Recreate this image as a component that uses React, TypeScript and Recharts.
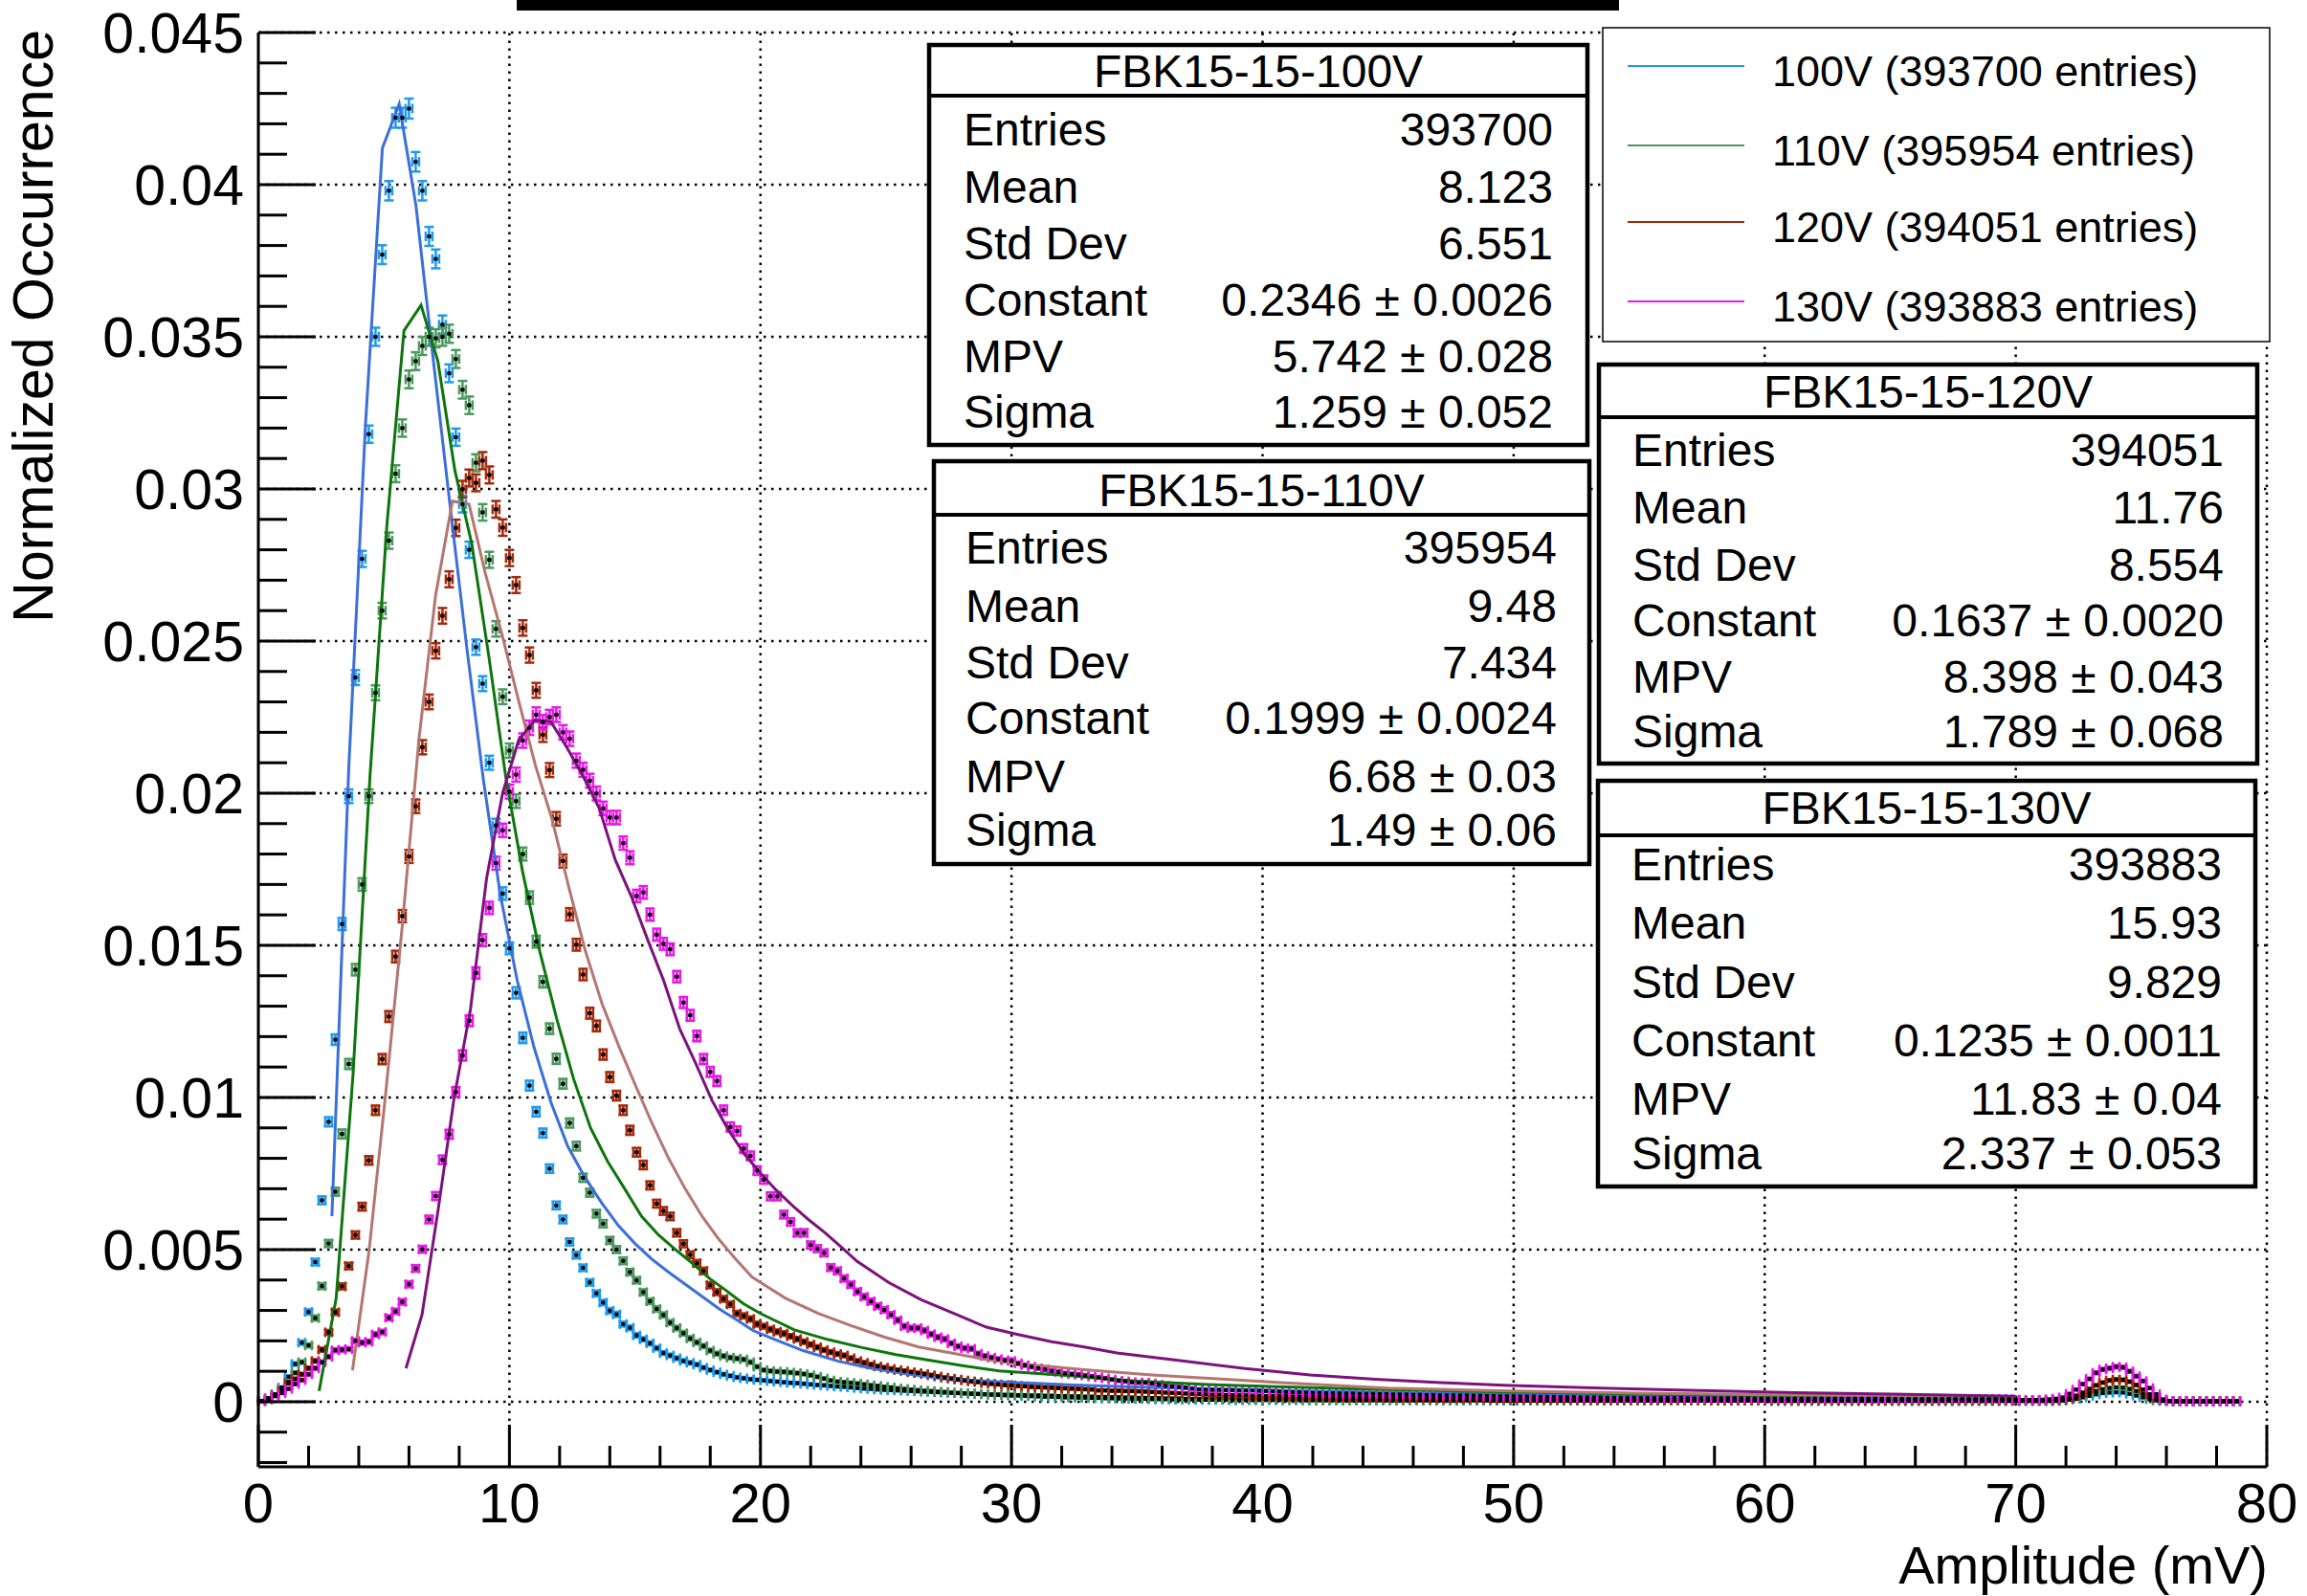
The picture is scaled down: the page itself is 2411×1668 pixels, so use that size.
import React from 'react';
import { ComposedChart, Scatter, Line, XAxis, YAxis, ReferenceLine, ErrorBar } from 'recharts';

// histogram binning (300 bins over 0-80 mV)
const N_BINS = 300;
const X_MAX = 80;
const UNIT = 1e-5; // all histogram / fit values below are in units of 1e-5

const NAMES = ['100V', '110V', '120V', '130V'];
const ENTRIES = [393700, 395954, 394051, 393883];
const POINT_COLORS = ['#1e9bf0', '#4c9960', '#a6290a', '#e619e6'];
const FIT_COLORS = ['#3b6fd9', '#0c760c', '#b4766f', '#7c127c'];

// normalized occurrence per bin
const H100 = [
  3, 12, 25, 47, 82, 124, 194, 295, 459, 662,
  920, 1190, 1570, 1990, 2380, 2770, 3180, 3500, 3770, 3980,
  4220, 4220, 4250, 4075, 3980, 3830, 3756, 3540, 3380, 3170,
  2950, 2800, 2480, 2360, 2100, 1894, 1670, 1490, 1344, 1196,
  1039, 953, 883, 766, 645, 599, 525, 482, 440, 392,
  356, 326, 299, 287, 255, 243, 218, 205, 192, 176,
  160, 152, 143, 134, 128, 122, 112, 104, 97, 90,
  85, 80, 77, 74, 72, 70, 68, 66, 64, 62,
  61, 59, 57, 55, 54, 52, 50, 49, 47, 45,
  43, 42, 40, 39, 38, 37, 36, 35, 34, 33,
  32, 31, 30, 29, 28, 27, 26, 25, 24, 23,
  22, 21, 21, 20, 19, 18, 17, 16, 16, 15,
  14, 14, 13, 13, 12, 12, 11, 11, 10, 10,
  9, 9, 9, 8, 8, 8, 7, 7, 7, 7,
  6, 6, 6, 6, 6, 5, 5, 5, 5, 5,
  5, 5, 5, 5, 5, 5, 4, 4, 4, 4,
  4, 4, 4, 4, 4, 4, 4, 4, 4, 4,
  4, 4, 4, 4, 4, 4, 4, 4, 4, 4,
  4, 4, 4, 4, 3, 3, 3, 3, 3, 3,
  3, 3, 3, 3, 3, 3, 3, 3, 3, 3,
  3, 3, 3, 3, 3, 3, 3, 3, 3, 3,
  3, 3, 3, 3, 3, 3, 3, 3, 3, 3,
  3, 3, 3, 3, 3, 2, 2, 2, 2, 2,
  2, 2, 2, 2, 2, 2, 2, 2, 2, 2,
  2, 2, 2, 2, 2, 2, 2, 2, 2, 2,
  2, 2, 2, 2, 2, 2, 2, 2, 2, 2,
  2, 2, 2, 2, 2, 2, 2, 2, 2, 3,
  6, 9, 14, 19, 24, 28, 30, 31, 30, 26,
  20, 14, 8, 4, 2, 1, 1, 1, 1, 1,
  1, 1, 1, 1, 1, 1,
];

const H110 = [
  2, 8, 22, 40, 65, 95, 130, 185, 275, 380,
  520, 690, 880, 1110, 1420, 1700, 1990, 2330, 2600, 2830,
  3050, 3200, 3360, 3420, 3470, 3500, 3495, 3500, 3510, 3427,
  3326, 3275, 3086, 2923, 2767, 2540, 2317, 2140, 1974, 1800,
  1657, 1512, 1380, 1226, 1127, 1045, 916, 840, 736, 687,
  618, 585, 530, 500, 463, 426, 399, 360, 330, 305,
  285, 260, 242, 225, 208, 195, 183, 168, 158, 150,
  145, 142, 139, 130, 115, 104, 101, 99, 98, 96,
  94, 91, 87, 82, 76, 70, 66, 64, 62, 60,
  57, 54, 52, 49, 47, 44, 42, 40, 38, 36,
  35, 33, 32, 30, 29, 28, 27, 26, 25, 24,
  24, 23, 23, 22, 22, 21, 21, 20, 20, 19,
  19, 18, 18, 17, 17, 16, 16, 15, 15, 14,
  14, 13, 13, 12, 12, 11, 11, 11, 10, 10,
  10, 10, 9, 9, 9, 9, 8, 8, 8, 8,
  8, 8, 7, 7, 7, 7, 7, 7, 6, 6,
  6, 6, 6, 6, 6, 6, 6, 6, 6, 6,
  6, 6, 6, 5, 5, 5, 5, 5, 5, 5,
  5, 5, 5, 5, 5, 5, 5, 5, 5, 5,
  5, 5, 5, 5, 4, 4, 4, 4, 4, 4,
  4, 4, 4, 4, 4, 4, 4, 4, 4, 4,
  4, 4, 4, 4, 4, 4, 4, 4, 4, 4,
  4, 4, 4, 3, 3, 3, 3, 3, 3, 3,
  3, 3, 3, 3, 3, 3, 3, 3, 3, 3,
  3, 3, 3, 3, 3, 3, 3, 3, 3, 3,
  3, 3, 3, 3, 3, 3, 3, 3, 3, 3,
  3, 3, 3, 3, 3, 3, 3, 3, 3, 5,
  9, 14, 21, 28, 35, 41, 45, 47, 46, 42,
  35, 26, 15, 7, 3, 2, 1, 1, 1, 1,
  1, 1, 1, 1, 1, 1,
];

const H120 = [
  2, 8, 20, 35, 60, 75, 90, 110, 134, 171,
  228, 294, 379, 446, 548, 641, 793, 958, 1126, 1266,
  1463, 1596, 1792, 1957, 2151, 2300, 2468, 2583, 2703, 2872,
  2999, 3036, 3020, 3093, 3046, 2933, 2873, 2773, 2684, 2543,
  2454, 2338, 2192, 2076, 1916, 1777, 1602, 1502, 1404, 1277,
  1235, 1141, 1067, 1006, 958, 892, 820, 778, 711, 651,
  627, 609, 555, 519, 483, 455, 430, 383, 360, 338,
  320, 290, 282, 272, 255, 248, 238, 230, 224, 215,
  206, 197, 188, 179, 170, 163, 157, 152, 143, 134,
  128, 122, 116, 112, 108, 104, 101, 97, 94, 91,
  87, 83, 79, 76, 73, 70, 67, 65, 61, 59,
  57, 55, 54, 52, 51, 49, 48, 47, 46, 45,
  44, 43, 42, 41, 40, 37, 37, 36, 36, 35,
  35, 34, 33, 32, 31, 30, 29, 28, 27, 26,
  25, 24, 23, 23, 22, 22, 21, 21, 20, 20,
  19, 19, 18, 18, 17, 17, 17, 16, 16, 16,
  15, 15, 15, 14, 14, 14, 13, 13, 13, 13,
  12, 12, 12, 12, 11, 11, 11, 11, 10, 10,
  10, 10, 10, 10, 9, 9, 9, 9, 9, 9,
  8, 8, 8, 8, 8, 8, 8, 7, 7, 7,
  7, 7, 7, 7, 7, 7, 6, 6, 6, 6,
  6, 6, 6, 6, 6, 6, 6, 5, 5, 5,
  5, 5, 5, 5, 5, 5, 5, 5, 5, 5,
  5, 5, 5, 5, 5, 4, 4, 4, 4, 4,
  4, 4, 4, 4, 4, 4, 4, 4, 4, 4,
  4, 4, 4, 4, 4, 4, 4, 4, 4, 4,
  4, 4, 4, 4, 4, 4, 4, 4, 5, 7,
  12, 20, 30, 42, 54, 63, 70, 73, 72, 66,
  55, 40, 25, 12, 5, 3, 2, 2, 2, 2,
  2, 2, 2, 2, 2, 2,
];

const H130 = [
  2, 9, 18, 28, 42, 58, 71, 90, 110, 130,
  148, 169, 171, 173, 200, 194, 197, 221, 229, 276,
  297, 328, 386, 438, 501, 599, 676, 795, 879, 1018,
  1138, 1252, 1409, 1517, 1623, 1770, 1878, 2005, 2061, 2173,
  2215, 2258, 2233, 2250, 2258, 2200, 2179, 2107, 2077, 2041,
  1999, 1950, 1920, 1920, 1836, 1788, 1662, 1674, 1601, 1535,
  1505, 1487, 1397, 1312, 1270, 1202, 1126, 1084, 1054, 958,
  903, 890, 832, 808, 760, 730, 675, 675, 615, 591,
  555, 555, 515, 503, 489, 441, 430, 405, 385, 362,
  345, 330, 314, 302, 286, 268, 248, 242, 242, 234,
  222, 212, 206, 192, 182, 176, 174, 158, 150, 145,
  140, 136, 134, 126, 120, 115, 110, 106, 101, 98,
  93, 91, 89, 86, 83, 80, 77, 73, 69, 67,
  64, 63, 63, 60, 56, 52, 50, 48, 46, 43,
  40, 39, 39, 39, 38, 38, 37, 37, 37, 36,
  35, 34, 33, 32, 31, 31, 30, 29, 29, 28,
  28, 27, 27, 27, 26, 26, 26, 25, 25, 24,
  24, 24, 23, 23, 22, 22, 21, 21, 21, 21,
  21, 20, 20, 19, 19, 18, 18, 18, 17, 17,
  17, 16, 16, 16, 15, 15, 15, 14, 14, 14,
  14, 13, 13, 13, 13, 13, 12, 12, 12, 12,
  12, 12, 12, 11, 11, 11, 11, 11, 11, 11,
  11, 11, 11, 10, 10, 10, 10, 10, 10, 10,
  10, 10, 10, 10, 10, 10, 10, 10, 10, 10,
  10, 10, 10, 10, 9, 9, 9, 9, 9, 9,
  9, 9, 9, 9, 9, 9, 9, 9, 9, 9,
  9, 8, 7, 6, 6, 6, 7, 8, 10, 14,
  26, 40, 58, 75, 95, 106, 110, 115, 113, 100,
  84, 68, 45, 25, 8, 3, 2, 2, 1, 1,
  1, 1, 1, 1, 1, 1,
];

// Landau fit curves (polyline vertices)
const F100_X = [2.93, 3.6, 4.27, 4.94, 5.61, 6.28, 6.96, 7.63, 8.3, 8.97, 9.64, 10.31, 10.98, 11.65, 12.32, 12.99, 13.66, 14.33, 15.0, 15.68, 16.35, 17.02, 17.69, 18.36, 19.03, 19.7, 20.4, 21.7, 23.1, 24.4, 25.8, 27.1, 28.5, 29.8, 32.5, 35.2, 37.9, 40.6, 45.0, 50.4, 55.8, 61.2, 66.5, 70.0];
const F100_Y = [610, 2080, 3215, 4120, 4265, 3930, 3430, 2950, 2480, 2040, 1665, 1385, 1165, 985, 840, 740, 655, 580, 520, 468, 425, 385, 345, 305, 270, 234, 210, 168, 133, 110, 92, 78, 70, 64, 55, 48, 42, 37, 30, 24, 19, 15, 12, 11];

const F110_X = [2.42, 3.1, 3.77, 4.45, 5.12, 5.8, 6.48, 7.15, 7.83, 8.5, 9.18, 9.86, 10.53, 11.21, 11.88, 12.56, 13.23, 13.91, 14.59, 15.26, 15.94, 16.61, 17.29, 17.97, 18.64, 19.32, 20.0, 21.35, 22.7, 24.05, 25.4, 26.76, 28.1, 29.5, 32.2, 34.9, 37.6, 40.3, 44.4, 49.8, 55.2, 60.6, 66.0, 70.0];
const F110_Y = [35, 340, 1074, 2060, 2880, 3520, 3604, 3420, 3060, 2820, 2450, 2050, 1740, 1480, 1260, 1060, 900, 790, 700, 610, 548, 500, 455, 405, 365, 322, 290, 236, 204, 178, 155, 136, 118, 101, 86, 68, 57, 50, 41, 32, 25, 20, 16, 14];

const F120_X = [3.75, 4.41, 5.08, 5.74, 6.4, 7.06, 7.73, 8.39, 9.05, 9.71, 10.38, 11.04, 11.7, 12.37, 13.03, 13.69, 14.35, 15.02, 15.68, 16.34, 17.0, 17.67, 18.33, 19.0, 19.66, 20.33, 21.0, 22.3, 23.6, 24.95, 26.3, 27.6, 28.9, 30.3, 32.9, 35.6, 38.2, 40.9, 45.0, 50.0, 55.0, 60.0, 65.0, 70.0];
const F120_Y = [103, 496, 1020, 1570, 2180, 2650, 2960, 2950, 2720, 2520, 2300, 2090, 1914, 1690, 1480, 1308, 1170, 1040, 915, 800, 700, 610, 535, 470, 410, 375, 340, 290, 250, 212, 180, 160, 140, 125, 105, 88, 75, 62, 45, 35, 28, 23, 19, 16];

const F130_X = [5.88, 6.52, 7.16, 7.8, 8.45, 9.09, 9.73, 10.37, 11.01, 11.65, 12.29, 12.94, 13.58, 14.22, 14.86, 15.5, 16.14, 16.79, 17.43, 18.07, 18.71, 19.35, 19.99, 20.63, 21.27, 21.92, 22.56, 23.2, 23.84, 25.1, 26.4, 27.7, 29.0, 30.3, 31.6, 32.9, 34.2, 36.8, 39.3, 41.9, 44.5, 47.1, 49.6, 53.5, 57.4, 61.2, 65.1, 70.0];
const F130_Y = [110, 286, 630, 1000, 1290, 1720, 2000, 2175, 2240, 2235, 2150, 2055, 1950, 1780, 1660, 1520, 1385, 1224, 1110, 990, 895, 815, 752, 695, 645, 598, 556, 510, 462, 392, 335, 290, 245, 220, 197, 180, 160, 134, 109, 88, 74, 63, 54, 45, 37, 30, 25, 18];

// axes
const Y_MIN = -0.00214;
const Y_MAX = 0.045;
const Y_MAJOR = [0, 0.005, 0.01, 0.015, 0.02, 0.025, 0.03, 0.035, 0.04, 0.045];
const Y_LABELS = ['0', '0.005', '0.01', '0.015', '0.02', '0.025', '0.03', '0.035', '0.04', '0.045'];
const Y_MINOR = [-0.002, -0.001, 0.001, 0.002, 0.003, 0.004, 0.006, 0.007, 0.008, 0.009, 0.011, 0.012, 0.013, 0.014, 0.016, 0.017, 0.018, 0.019, 0.021, 0.022, 0.023, 0.024, 0.026, 0.027, 0.028, 0.029, 0.031, 0.032, 0.033, 0.034, 0.036, 0.037, 0.038, 0.039, 0.041, 0.042, 0.043, 0.044];
const X_MAJOR = [0, 10, 20, 30, 40, 50, 60, 70, 80];
const X_LABELS = ['0', '10', '20', '30', '40', '50', '60', '70', '80'];
const X_MINOR = [2, 4, 6, 8, 12, 14, 16, 18, 22, 24, 26, 28, 32, 34, 36, 38, 42, 44, 46, 48, 52, 54, 56, 58, 62, 64, 66, 68, 72, 74, 76, 78];

// stats boxes
const STAT_LABELS = ['Entries', 'Mean', 'Std Dev', 'Constant', 'MPV', 'Sigma'];
const STAT_VALUES = [
  ['393700', '8.123', '6.551', '0.2346 \u00b1 0.0026', '5.742 \u00b1 0.028', '1.259 \u00b1 0.052'],
  ['395954', '9.48', '7.434', '0.1999 \u00b1 0.0024', '6.68 \u00b1 0.03', '1.49 \u00b1 0.06'],
  ['394051', '11.76', '8.554', '0.1637 \u00b1 0.0020', '8.398 \u00b1 0.043', '1.789 \u00b1 0.068'],
  ['393883', '15.93', '9.829', '0.1235 \u00b1 0.0011', '11.83 \u00b1 0.04', '2.337 \u00b1 0.053'],
];

const FONT = "'Liberation Sans', Arial, Helvetica, sans-serif";
const W = 2411;
const H = 1668;

const BOXES = [
  { x: 971, y: 47, w: 688, h: 418, sep: 100, title: 91, rows: [152, 212, 271, 330, 389, 447], lx: 1007, vx: 1623 },
  { x: 976, y: 482, w: 685, h: 421, sep: 538, title: 529, rows: [589, 650, 709, 767, 828, 884], lx: 1009, vx: 1627 },
  { x: 1671, y: 381, w: 688, h: 417, sep: 436, title: 426, rows: [487, 547, 607, 665, 724, 781], lx: 1706, vx: 2324 },
  { x: 1670, y: 816, w: 687, h: 424, sep: 873, title: 861, rows: [920, 981, 1043, 1104, 1165, 1222], lx: 1705, vx: 2322 },
];
const LEGEND_ROWS = [69, 152, 232, 315];

const binCenter = (i: number) => ((i + 0.5) * X_MAX) / N_BINS;

const toPoints = (vals: number[], entries: number) =>
  vals.map((v, i) => {
    const y = v * UNIT;
    return { x: binCenter(i), y, ey: Math.sqrt(y / entries), ex: X_MAX / N_BINS / 2 };
  });

const toCurve = (xs: number[], ys: number[]) => xs.map((x, i) => ({ x, y: ys[i] * UNIT }));

const HISTS = [H100, H110, H120, H130].map((h, i) => toPoints(h, ENTRIES[i]));
const FITS = [
  toCurve(F100_X, F100_Y),
  toCurve(F110_X, F110_Y),
  toCurve(F120_X, F120_Y),
  toCurve(F130_X, F130_Y),
];

const MarkerDot = (p: any) => <rect x={p.cx - 2} y={p.cy - 2} width={4} height={4} fill="#000" />;

const YTick = (p: any) => {
  const v = p.payload.value;
  const idx = Y_MAJOR.indexOf(v);
  const len = idx >= 0 ? 60 : 30;
  return (
    <g>
      <line x1={p.x} y1={p.y} x2={p.x + len} y2={p.y} stroke="#000" strokeWidth={3} />
      {idx >= 0 && (
        <text x={p.x - 15} y={p.y} dy="0.36em" textAnchor="end" fontSize={59} fontFamily={FONT} fill="#000">
          {Y_LABELS[idx]}
        </text>
      )}
    </g>
  );
};

const XTick = (p: any) => {
  const v = p.payload.value;
  const idx = X_MAJOR.indexOf(v);
  const len = idx >= 0 ? 44 : 22;
  return (
    <g>
      <line x1={p.x} y1={p.y} x2={p.x} y2={p.y - len} stroke="#000" strokeWidth={3} />
      {idx >= 0 && (
        <text x={p.x} y={p.y + 58} textAnchor="middle" fontSize={58} fontFamily={FONT} fill="#000">
          {X_LABELS[idx]}
        </text>
      )}
    </g>
  );
};

const Overlay: React.FC = () => (
  <svg width={W} height={H} style={{ position: 'absolute', left: 0, top: 0, pointerEvents: 'none' }}>
    <rect x={540} y={0} width={1152} height={11} fill="#000" />
    <text transform="translate(55,31) rotate(-90)" textAnchor="end" fontSize={59} fontFamily={FONT} fill="#000">
      Normalized Occurrence
    </text>
    <text x={2370} y={1655} textAnchor="end" fontSize={56} fontFamily={FONT} fill="#000">
      Amplitude (mV)
    </text>

    {BOXES.map((b, i) => (
      <g key={i} fontFamily={FONT} fill="#000">
        <rect x={b.x} y={b.y} width={b.w} height={b.h} fill="#fff" stroke="#000" strokeWidth={4.5} />
        <line x1={b.x} y1={b.sep} x2={b.x + b.w} y2={b.sep} stroke="#000" strokeWidth={4} />
        <text x={b.x + b.w / 2} y={b.title} textAnchor="middle" fontSize={48}>
          {'FBK15-15-' + NAMES[i]}
        </text>
        {STAT_LABELS.map((lab, r) => (
          <g key={lab}>
            <text x={b.lx} y={b.rows[r]} fontSize={48}>{lab}</text>
            <text x={b.vx} y={b.rows[r]} textAnchor="end" fontSize={48}>{STAT_VALUES[i][r]}</text>
          </g>
        ))}
      </g>
    ))}

    <rect x={1675} y={29} width={697} height={328} fill="#fff" stroke="#000" strokeWidth={1.5} />
    {NAMES.map((n, i) => (
      <g key={n}>
        <line x1={1701} y1={LEGEND_ROWS[i]} x2={1823} y2={LEGEND_ROWS[i]} stroke={POINT_COLORS[i]} strokeWidth={2} />
        <text x={1852} y={LEGEND_ROWS[i] + 21} fontSize={45} fontFamily={FONT} fill="#000">
          {`${n} (${ENTRIES[i]} entries)`}
        </text>
      </g>
    ))}
  </svg>
);

export default function App() {
  const gridStyle = { stroke: '#000', strokeWidth: 2.5, strokeDasharray: '2.5 5.5' };
  return (
    <div style={{ position: 'absolute', left: 0, top: 0, width: W, height: H, background: '#fff', fontFamily: FONT }}>
      <ComposedChart width={W} height={H} margin={{ top: 34, right: 42, bottom: 75, left: 210 }}>
        <XAxis
          type="number"
          dataKey="x"
          domain={[0, X_MAX]}
          ticks={[...X_MAJOR, ...X_MINOR].sort((a, b) => a - b)}
          interval={0}
          allowDataOverflow
          height={60}
          tickSize={0}
          tickMargin={0}
          tickLine={false}
          axisLine={{ stroke: '#000', strokeWidth: 3 }}
          tick={(p: any) => <XTick {...p} />}
        />
        <YAxis
          type="number"
          dataKey="y"
          domain={[Y_MIN, Y_MAX]}
          ticks={[...Y_MINOR, ...Y_MAJOR].sort((a, b) => a - b)}
          interval={0}
          allowDataOverflow
          width={60}
          tickSize={0}
          tickMargin={0}
          tickLine={false}
          axisLine={{ stroke: '#000', strokeWidth: 3 }}
          tick={(p: any) => <YTick {...p} />}
        />
        {X_MAJOR.slice(1).map((v) => (
          <ReferenceLine key={'gx' + v} x={v} {...gridStyle} />
        ))}
        {Y_MAJOR.map((v) => (
          <ReferenceLine key={'gy' + v} y={v} {...gridStyle} />
        ))}

        {HISTS.map((pts, i) => (
          <Scatter key={'h' + i} name={NAMES[i]} data={pts} shape={MarkerDot} isAnimationActive={false}>
            <ErrorBar dataKey="ey" direction="y" width={5} stroke={POINT_COLORS[i]} strokeWidth={2.5} isAnimationActive={false} />
            <ErrorBar dataKey="ex" direction="x" width={5} stroke={POINT_COLORS[i]} strokeWidth={2.5} isAnimationActive={false} />
          </Scatter>
        ))}
        {FITS.map((pts, i) => (
          <Line
            key={'f' + i}
            data={pts}
            dataKey="y"
            type="linear"
            stroke={FIT_COLORS[i]}
            strokeWidth={3}
            dot={false}
            isAnimationActive={false}
          />
        ))}
      </ComposedChart>
      <Overlay />
    </div>
  );
}
